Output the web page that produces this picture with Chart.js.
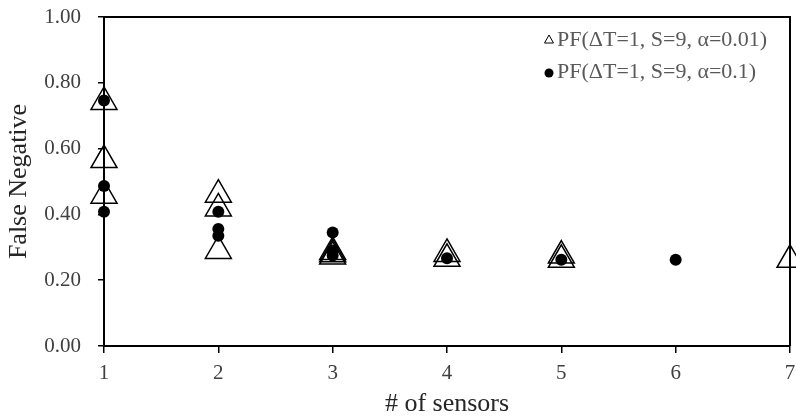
<!DOCTYPE html>
<html>
<head>
<meta charset="utf-8">
<script src="https://cdn.jsdelivr.net/npm/chart.js@4/dist/chart.umd.min.js"></script>
<style>
  html, body { margin: 0; padding: 0; background: #fff; }
  #wrap { width: 796px; height: 417px; }
</style>
</head>
<body>
<div id="wrap"><canvas id="c" width="796" height="417"></canvas></div>
<script>
// Axis ranges and tick steps
const xRange = [1, 7];
const yRange = [0, 1];
const xStep = 1;
const yStep = 0.2;

// Series names
const seriesLabels = ['PF(\u0394T=1, S=9, \u03b1=0.01)', 'PF(\u0394T=1, S=9, \u03b1=0.1)'];

// alpha = 0.01 runs (open triangles)
const alpha001X = [1, 1, 1, 2, 2, 2, 3, 3, 3, 4, 4, 5, 5, 7];
const alpha001Y = [0.742, 0.565, 0.457, 0.46, 0.418, 0.289, 0.286, 0.279, 0.272, 0.28, 0.265, 0.275, 0.262, 0.262];

// alpha = 0.1 runs (filled circles)
const alpha01X = [1, 1, 1, 2, 2, 2, 3, 3, 3, 4, 5, 6];
const alpha01Y = [0.746, 0.486, 0.408, 0.408, 0.356, 0.335, 0.345, 0.29, 0.275, 0.267, 0.262, 0.262];

const serif = "'Liberation Serif', 'Times New Roman', serif";
const tickColor = '#404040';

const toPoints = (xs, ys) => xs.map((x, i) => ({ x: x, y: ys[i] }));

// Plot-area frame (top and right edges) drawn under the markers
const framePlugin = {
  id: 'frame',
  beforeDatasetsDraw(chart) {
    const { ctx, chartArea: a } = chart;
    ctx.save();
    ctx.strokeStyle = '#000';
    ctx.lineWidth = 2;
    ctx.beginPath();
    ctx.moveTo(a.left, a.top);
    ctx.lineTo(a.right, a.top);
    ctx.lineTo(a.right, a.bottom);
    ctx.stroke();
    ctx.restore();
  }
};

// Legend in the upper-right corner of the plot area
const cornerLegend = {
  id: 'cornerLegend',
  afterDraw(chart) {
    const { ctx, chartArea: a } = chart;
    const rows = [
      { ds: chart.data.datasets[0], y: a.top + 23 },
      { ds: chart.data.datasets[1], y: a.top + 55 }
    ];
    const mx = a.right - 241;
    ctx.save();
    ctx.font = "22px " + serif;
    ctx.textBaseline = 'middle';
    ctx.textAlign = 'left';
    rows.forEach(r => {
      if (r.ds.pointStyle === 'triangle') {
        ctx.beginPath();
        ctx.moveTo(mx, r.y - 5);
        ctx.lineTo(mx + 4.5, r.y + 3);
        ctx.lineTo(mx - 4.5, r.y + 3);
        ctx.closePath();
        ctx.strokeStyle = '#000';
        ctx.lineWidth = 1;
        ctx.stroke();
      } else {
        ctx.beginPath();
        ctx.arc(mx, r.y + 1, 4.5, 0, Math.PI * 2);
        ctx.fillStyle = '#000';
        ctx.fill();
      }
      ctx.fillStyle = '#595959';
      ctx.fillText(r.ds.label, mx + 8, r.y);
    });
    ctx.restore();
  }
};

new Chart(document.getElementById('c'), {
  type: 'scatter',
  data: {
    datasets: [
      {
        label: seriesLabels[0],
        data: toPoints(alpha001X, alpha001Y),
        pointStyle: 'triangle',
        pointRadius: 15,
        pointHoverRadius: 15,
        pointBorderWidth: 1.5,
        borderColor: '#000',
        backgroundColor: 'rgba(0,0,0,0)',
        clip: false,
        order: 1
      },
      {
        label: seriesLabels[1],
        data: toPoints(alpha01X, alpha01Y),
        pointStyle: 'circle',
        pointRadius: 6,
        pointHoverRadius: 6,
        pointBorderWidth: 0,
        borderColor: '#000',
        backgroundColor: '#000',
        clip: false,
        order: 0
      }
    ]
  },
  options: {
    responsive: false,
    devicePixelRatio: 1,
    animation: false,
    layout: { autoPadding: false, padding: { top: 17, right: 6, left: 0, bottom: 0 } },
    plugins: {
      legend: { display: false },
      tooltip: { enabled: false }
    },
    scales: {
      x: {
        type: 'linear',
        min: xRange[0],
        max: xRange[1],
        afterFit(s) { s.height = 71; s.paddingLeft = 0; s.paddingRight = 0; },
        ticks: {
          stepSize: xStep,
          color: tickColor,
          font: { family: serif, size: 21 },
          padding: 8
        },
        grid: {
          display: true,
          drawOnChartArea: false,
          drawTicks: true,
          tickLength: 7,
          color: '#000',
          lineWidth: 1.5
        },
        border: { display: true, color: '#000', width: 2 },
        title: {
          display: true,
          text: '# of sensors',
          color: '#262626',
          font: { family: serif, size: 26, lineHeight: 1 },
          padding: { top: 0, bottom: 0 }
        }
      },
      y: {
        type: 'linear',
        min: yRange[0],
        max: yRange[1],
        afterFit(s) { s.width = 104; s.paddingTop = 0; s.paddingBottom = 0; },
        ticks: {
          stepSize: yStep,
          color: tickColor,
          font: { family: serif, size: 21 },
          padding: 17,
          callback: v => v.toFixed(2)
        },
        grid: {
          display: true,
          drawOnChartArea: false,
          drawTicks: true,
          tickLength: 6,
          color: '#000',
          lineWidth: 1.5
        },
        border: { display: true, color: '#000', width: 2 },
        title: {
          display: true,
          text: 'False Negative',
          color: '#262626',
          font: { family: serif, size: 26 },
          padding: { top: 4, bottom: 0 }
        }
      }
    }
  },
  plugins: [framePlugin, cornerLegend]
});
</script>
</body>
</html>
